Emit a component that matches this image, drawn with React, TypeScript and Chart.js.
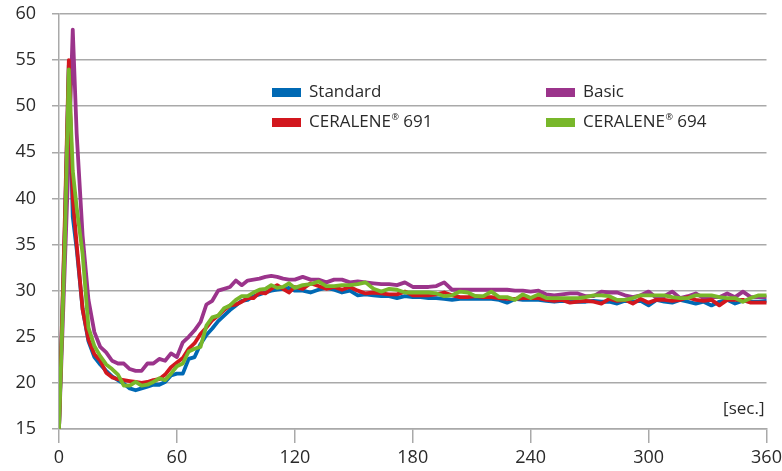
import React, { useEffect, useRef } from 'react';
import { Chart, registerables } from 'chart.js';

Chart.register(...registerables);

const FONT = "'Open Sans', 'DejaVu Sans', sans-serif";

// time in seconds
const times = [
  0, 3, 5, 7, 9, 12, 15, 18, 21, 24, 27, 30, 33, 36, 39, 42, 45, 48, 51, 54, 57, 60,
  63, 66, 69, 72, 75, 78, 81, 84, 87, 90, 93, 96, 99, 102, 105, 108, 111, 114, 117, 120,
  124, 128, 132, 136, 140, 144, 148, 152, 156, 160, 164, 168, 172, 176, 180, 184, 188, 192, 196, 200,
  204, 208, 212, 216, 220, 224, 228, 232, 236, 240, 244, 248, 252, 256, 260, 264, 268, 272, 276, 280,
  284, 288, 292, 296, 300, 304, 308, 312, 316, 320, 324, 328, 332, 336, 340, 344, 348, 352, 356, 360,
];

const seriesLabels = ['Standard', 'Basic', 'CERALENE® 691', 'CERALENE® 694'];
const seriesColors = ['#0069b4', '#9b348b', '#d2171e', '#78b72a'];

const standard = [
  15, 37, 54.5, 38, 34.5, 28, 24.5, 22.8, 22.0, 21.3, 20.7, 20.3, 19.9, 19.4, 19.2, 19.4, 19.6, 19.8, 19.8, 20.1, 20.8, 21.0,
  21.0, 22.6, 22.8, 24.2, 25.2, 25.9, 26.7, 27.3, 27.9, 28.4, 28.9, 29.0, 29.4, 29.6, 29.8, 30.0, 30.1, 30.2, 30.3, 30.0,
  30.0, 29.8, 30.1, 30.3, 30.1, 29.8, 30.0, 29.5, 29.6, 29.5,
  29.4, 29.4, 29.2, 29.4, 29.3, 29.3, 29.2, 29.2, 29.1, 29.0,
  29.1, 29.1, 29.1, 29.1, 29.1, 29.0, 28.7, 29.1, 29.0, 29.0,
  29.0, 28.9, 28.8, 28.9, 28.8, 28.8, 28.8, 28.9, 28.8, 28.8,
  28.6, 28.9, 28.8, 28.9, 28.4, 29.0, 28.8, 28.7, 29.0, 28.8,
  28.6, 28.8, 28.4, 28.8, 29.0, 28.6, 28.9, 28.8, 28.8, 28.9,
];

const basic = [
  15, 33, 45, 58.3, 47, 36, 29, 25.5, 23.9, 23.3, 22.4, 22.1, 22.1, 21.5, 21.3, 21.3, 22.1, 22.1, 22.6, 22.4, 23.2, 22.8,
  24.4, 25.0, 25.7, 26.6, 28.5, 28.9, 30.0, 30.2, 30.4, 31.1, 30.6, 31.1, 31.2, 31.3, 31.5, 31.6, 31.5, 31.3, 31.2, 31.2,
  31.5, 31.2, 31.2, 30.9, 31.2, 31.2, 30.9, 31.0, 30.9, 30.8,
  30.7, 30.7, 30.6, 30.9, 30.4, 30.4, 30.4, 30.5, 30.9, 30.1,
  30.1, 30.1, 30.1, 30.1, 30.1, 30.1, 30.1, 30.0, 30.0, 29.9,
  30.0, 29.6, 29.5, 29.6, 29.7, 29.7, 29.4, 29.4, 29.9, 29.8,
  29.8, 29.5, 29.3, 29.5, 29.9, 29.2, 29.4, 29.9, 29.2, 29.4,
  29.7, 29.2, 29.3, 29.3, 29.7, 29.3, 29.9, 29.3, 29.3, 29.3,
];

const ceralene691 = [
  15, 38, 55, 40, 35, 28, 24.7, 23.1, 22.4, 21.1, 20.6, 20.4, 20.3, 20.2, 20.1, 20.0, 20.1, 20.3, 20.4, 20.9, 21.7, 22.2,
  22.7, 23.7, 24.3, 25.3, 26.0, 26.8, 27.3, 27.9, 28.4, 28.5, 28.8, 29.2, 29.2, 29.8, 29.7, 30.2, 30.6, 30.2, 29.8, 30.4,
  30.2, 30.8, 30.5, 30.2, 30.4, 30.1, 30.4, 30.0, 29.7, 29.8,
  29.7, 29.6, 29.6, 29.9, 29.5, 29.5, 29.5, 29.6, 29.8, 29.5,
  29.3, 29.3, 29.4, 29.3, 29.3, 29.2, 29.1, 29.1, 29.2, 29.2,
  29.2, 29.0, 28.9, 29.0, 28.7, 28.8, 28.9, 28.8, 28.6, 29.1,
  28.9, 29.0, 28.6, 29.1, 28.7, 29.0, 29.0, 28.9, 29.0, 29.3,
  29.0, 28.9, 29.0, 28.4, 29.0, 29.0, 29.0, 28.7, 28.7, 28.7,
];

const ceralene694 = [
  15, 35.5, 54, 43, 39, 34, 26, 24.0, 22.9, 22.0, 21.5, 20.9, 19.7, 19.7, 20.1, 19.7, 19.8, 20.1, 20.5, 20.3, 21.0, 21.8,
  22.1, 23.4, 23.7, 23.9, 26.2, 27.1, 27.3, 28.1, 28.4, 29.0, 29.4, 29.4, 29.8, 30.1, 30.2, 30.6, 30.3, 30.4, 30.8, 30.3,
  30.6, 30.7, 31.0, 30.5, 30.5, 30.6, 30.6, 30.7, 30.9, 30.2,
  29.9, 30.2, 30.1, 29.8, 29.8, 29.8, 29.8, 29.7, 29.4, 29.5,
  29.9, 29.8, 29.4, 29.4, 29.9, 29.3, 29.3, 29.0, 29.6, 29.2,
  29.6, 29.2, 29.2, 29.2, 29.2, 29.2, 29.3, 29.5, 29.5, 29.4,
  29.0, 29.0, 29.2, 29.5, 29.5, 29.5, 29.5, 29.3, 29.2, 29.2,
  29.5, 29.5, 29.5, 29.3, 29.2, 29.2, 28.8, 29.2, 29.5, 29.5,
];

const seriesValues = [standard, basic, ceralene691, ceralene694];
const drawOrder = [3, 2, 1, 0];
const unitLabel = '[sec.]';

const GRID = '#a9a9a9';
const TEXT = '#2a2a2a';

const insideLegend = {
  id: 'insideLegend',
  afterDraw(chart: any) {
    const { ctx, chartArea } = chart;
    ctx.save();
    ctx.textBaseline = 'middle';
    ctx.textAlign = 'left';
    chart.data.datasets.forEach((d: any, i: number) => {
      const col = i % 2;
      const row = Math.floor(i / 2);
      const x = chartArea.left + 213 + col * 274;
      const y = chartArea.top + 78.5 + row * 30;
      ctx.fillStyle = d.borderColor;
      ctx.fillRect(x, y - 4.5, 29, 9);
      ctx.fillStyle = TEXT;
      const parts = String(d.label).split('®');
      let tx = x + 37;
      ctx.font = `17px ${FONT}`;
      ctx.fillText(parts[0], tx, y);
      tx += ctx.measureText(parts[0]).width;
      if (parts.length > 1) {
        ctx.font = `9px ${FONT}`;
        ctx.fillText('®', tx + 0.5, y - 5);
        tx += ctx.measureText('®').width + 0.5;
        ctx.font = `17px ${FONT}`;
        ctx.fillText(parts[1], tx, y);
      }
    });
    ctx.font = `17px ${FONT}`;
    ctx.textAlign = 'right';
    ctx.fillText(unitLabel, chartArea.right - 2, chartArea.bottom - 20);
    ctx.restore();
  },
};

export default function App() {
  const ref = useRef<HTMLCanvasElement | null>(null);

  useEffect(() => {
    document.body.style.margin = '0';
    if (!ref.current) return;
    const chart = new Chart(ref.current, {
      type: 'line',
      data: {
        datasets: seriesLabels.map((label, i) => ({
          label,
          data: times.map((t, j) => ({ x: t, y: seriesValues[i][j] })),
          borderColor: seriesColors[i],
          backgroundColor: seriesColors[i],
          borderWidth: 3.8,
          pointRadius: 0,
          tension: 0,
          borderJoinStyle: 'round' as const,
          borderCapStyle: 'round' as const,
          order: drawOrder[i],
        })),
      },
      options: {
        animation: false,
        responsive: true,
        maintainAspectRatio: false,
        layout: { padding: { top: 14, right: 15.5, left: 0, bottom: 0 } },
        plugins: {
          legend: { display: false },
          tooltip: { enabled: false },
          title: { display: false },
        },
        scales: {
          x: {
            type: 'linear',
            min: 0,
            max: 360,
            ticks: {
              stepSize: 60,
              color: TEXT,
              font: { family: FONT, size: 18 },
              padding: 4,
              maxRotation: 0,
            },
            grid: {
              drawOnChartArea: false,
              drawTicks: true,
              tickLength: 14,
              color: GRID,
              lineWidth: 1.5,
            },
            border: { display: true, color: GRID, width: 1.5 },
            afterFit: (s: any) => {
              s.height = 42;
              s.paddingLeft = 0;
              s.paddingRight = 0;
            },
          },
          y: {
            min: 15,
            max: 60,
            ticks: {
              stepSize: 5,
              color: TEXT,
              font: { family: FONT, size: 18 },
              padding: 16,
            },
            grid: {
              color: GRID,
              lineWidth: 1.5,
              tickLength: 7,
            },
            border: { display: true, color: GRID, width: 1.5 },
            afterFit: (s: any) => {
              s.width = 59;
              s.paddingTop = 0;
              s.paddingBottom = 0;
            },
          },
        },
      },
      plugins: [insideLegend],
    });
    return () => chart.destroy();
  }, []);

  return (
    <div style={{ width: 782, height: 471, position: 'relative', background: '#fff' }}>
      <canvas ref={ref} />
    </div>
  );
}
